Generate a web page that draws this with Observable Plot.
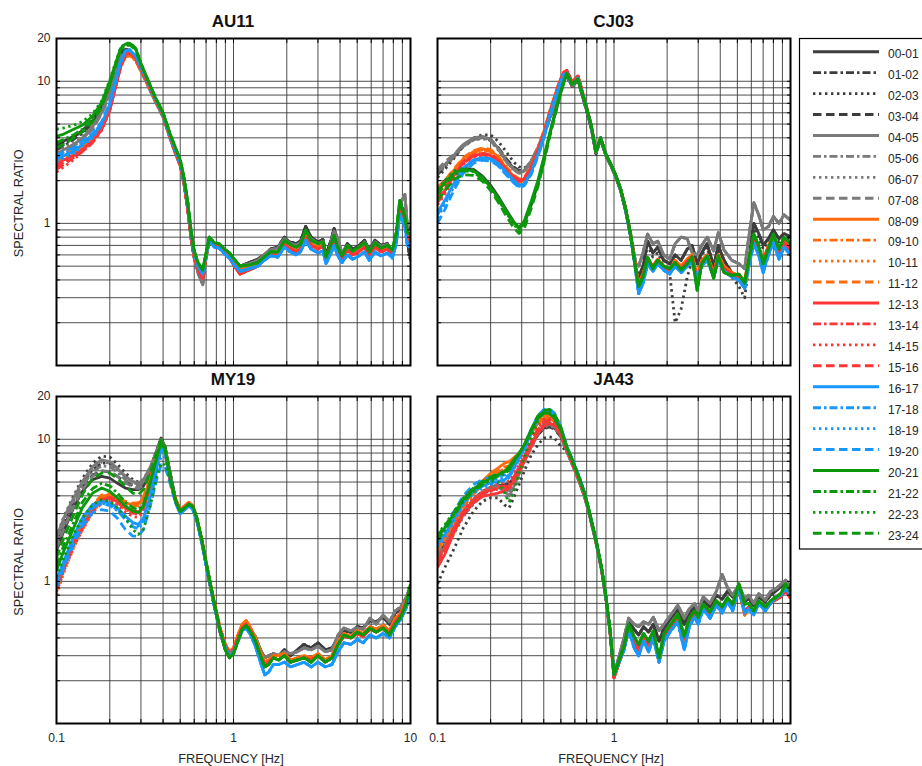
<!DOCTYPE html>
<html>
<head>
<meta charset="utf-8">
<script src="https://cdn.jsdelivr.net/npm/d3@7"></script>
<script src="https://cdn.jsdelivr.net/npm/@observablehq/plot@0.6"></script>
<style>
  html, body { margin: 0; padding: 0; background: #fff; }
  #root { position: relative; width: 922px; height: 766px; overflow: hidden; background: #fff; }
  .panel { position: absolute; }
  .panel svg { max-width: none !important; overflow: visible; }
</style>
</head>
<body>
<div id="root"></div>
<script>
// ---------- labels, styles ----------
const seriesLabels = ["00-01","01-02","02-03","03-04","04-05","05-06","06-07","07-08",
  "08-09","09-10","10-11","11-12","12-13","13-14","14-15","15-16",
  "16-17","17-18","18-19","19-20","20-21","21-22","22-23","23-24"];
const groupColors = ["#3d3d3d", "#7a7a7a", "#ff6a0a", "#ff3535", "#1898ff", "#0b990b"];
const styleDashes = [null, "8,3,2.5,3", "2.4,3.6", "8.5,4.5"]; // solid, dash-dot, dotted, dashed
const panelTitles = ["AU11", "CJ03", "MY19", "JA43"];
const xTickLabels = [0.1, 1, 10];
const yTickLabels = [1, 10, 20];
const xGrid = [0.2,0.3,0.4,0.5,0.6,0.7,0.8,0.9,1,2,3,4,5,6,7,8,9];
const yGrid = [0.2,0.3,0.4,0.5,0.6,0.7,0.8,0.9,1,2,3,4,5,6,7,8,9,10];

// ---------- AU11 ----------
const AU11_loFreq = [0.1, 0.11, 0.125, 0.14, 0.16, 0.18, 0.2, 0.215, 0.23, 0.245, 0.26, 0.28, 0.3];
const AU11_lo = [
  [3.6, 3.8, 4.1, 4.5, 5.3, 6.7, 9.2, 12.5, 15.8, 16.8, 16.5, 14.8, 12.3],
  [3.3, 3.5, 3.9, 4.3, 5.1, 6.5, 9.0, 12.2, 15.5, 16.6, 16.3, 14.6, 12.1],
  [3.4, 3.6, 4.0, 4.5, 5.4, 6.9, 9.5, 12.8, 16.0, 16.9, 16.4, 14.6, 12.0],
  [3.5, 3.7, 4.0, 4.4, 5.2, 6.6, 9.1, 12.3, 15.6, 16.5, 16.2, 14.5, 12.0],
  [3.1, 3.3, 3.6, 4.0, 4.8, 6.1, 8.4, 11.5, 14.8, 16.0, 15.8, 14.3, 11.9],
  [3.0, 3.2, 3.5, 3.9, 4.7, 6.0, 8.2, 11.2, 14.5, 15.8, 15.6, 14.1, 11.8],
  [3.2, 3.4, 3.7, 4.1, 4.9, 6.2, 8.6, 11.8, 15.0, 16.2, 15.9, 14.3, 11.9],
  [3.0, 3.2, 3.5, 3.9, 4.6, 5.9, 8.0, 11.0, 14.3, 15.6, 15.5, 14.0, 11.7],
  [2.8, 3.0, 3.2, 3.5, 4.0, 4.8, 6.5, 9.2, 12.8, 15.0, 15.4, 14.2, 12.0],
  [2.7, 2.9, 3.1, 3.4, 3.9, 4.7, 6.4, 9.0, 12.6, 14.8, 15.2, 14.0, 11.9],
  [2.5, 2.7, 3.0, 3.3, 3.8, 4.6, 6.3, 8.9, 12.4, 14.7, 15.1, 14.0, 11.8],
  [2.9, 3.1, 3.3, 3.6, 4.1, 4.9, 6.6, 9.3, 12.9, 15.1, 15.5, 14.3, 12.1],
  [2.6, 2.8, 3.0, 3.3, 3.8, 4.6, 6.3, 9.1, 12.7, 15.5, 16.0, 14.6, 12.3],
  [2.5, 2.7, 3.0, 3.3, 3.8, 4.6, 6.3, 9.0, 12.6, 15.4, 15.9, 14.5, 12.2],
  [2.3, 2.5, 2.8, 3.2, 3.7, 4.5, 6.2, 9.0, 12.5, 15.3, 15.8, 14.5, 12.2],
  [2.4, 2.6, 2.9, 3.2, 3.7, 4.6, 6.3, 9.1, 12.6, 15.4, 15.9, 14.5, 12.2],
  [2.8, 3.0, 3.2, 3.6, 4.1, 5.0, 6.9, 9.8, 13.5, 16.3, 16.6, 15.0, 12.6],
  [2.9, 3.1, 3.3, 3.7, 4.2, 5.1, 7.0, 9.9, 13.6, 16.3, 16.6, 15.0, 12.6],
  [2.7, 2.9, 3.1, 3.5, 4.0, 4.9, 6.8, 9.7, 13.4, 16.2, 16.5, 14.9, 12.5],
  [3.0, 3.2, 3.4, 3.8, 4.3, 5.2, 7.1, 10.0, 13.7, 16.4, 16.7, 15.1, 12.7],
  [4.1, 4.25, 4.6, 4.9, 5.7, 7.1, 10.0, 13.2, 17.0, 18.3, 18.5, 17.1, 13.4],
  [3.7, 3.9, 4.2, 4.6, 5.4, 6.8, 9.6, 12.9, 16.7, 18.0, 18.2, 16.8, 13.2],
  [4.6, 4.7, 4.9, 5.2, 5.9, 7.3, 10.2, 13.4, 17.2, 18.5, 18.6, 17.2, 13.5],
  [3.4, 3.6, 4.0, 4.4, 5.2, 6.6, 9.4, 12.7, 16.5, 17.8, 18.0, 16.6, 13.1]
];
const AU11_hiFreq = [0.32, 0.36, 0.4, 0.44, 0.47, 0.5, 0.525, 0.55, 0.575, 0.6, 0.63, 0.67, 0.7, 0.73, 0.78, 0.83, 0.89, 0.95, 1.01, 1.09, 1.23, 1.37, 1.49, 1.62, 1.78, 1.94, 2.06, 2.25, 2.39, 2.56, 2.74, 3.0, 3.2, 3.33, 3.56, 3.7, 3.86, 4.1, 4.4, 4.7, 5.0, 5.5, 5.85, 6.3, 6.8, 7.4, 7.9, 8.3, 8.7, 9.3, 9.6, 10];
const AU11_hi = [
  [10.2, 7.4, 5.7, 4.0, 3.2, 2.6, 1.95, 1.3, 0.8, 0.58, 0.46, 0.38, 0.6, 0.78, 0.72, 0.7, 0.64, 0.6, 0.55, 0.5, 0.53, 0.56, 0.6, 0.66, 0.68, 0.8, 0.74, 0.72, 0.75, 0.95, 0.8, 0.74, 0.77, 0.6, 0.76, 0.92, 0.78, 0.6, 0.72, 0.66, 0.68, 0.76, 0.65, 0.76, 0.7, 0.72, 0.6, 0.8, 1.3, 1.25, 0.75, 0.55],
  [10.0, 7.3, 5.6, 3.9, 3.1, 2.55, 1.9, 1.28, 0.8, 0.57, 0.45, 0.37, 0.58, 0.76, 0.7, 0.69, 0.63, 0.59, 0.54, 0.5, 0.52, 0.55, 0.6, 0.65, 0.67, 0.78, 0.73, 0.7, 0.73, 0.88, 0.78, 0.72, 0.75, 0.55, 0.74, 0.88, 0.8, 0.62, 0.7, 0.63, 0.66, 0.74, 0.64, 0.74, 0.69, 0.71, 0.62, 0.78, 1.35, 1.6, 0.95, 0.9],
  [10.3, 7.5, 5.8, 4.0, 3.2, 2.65, 2.0, 1.35, 0.85, 0.6, 0.49, 0.43, 0.6, 0.77, 0.7, 0.69, 0.63, 0.59, 0.53, 0.47, 0.5, 0.52, 0.57, 0.61, 0.6, 0.72, 0.69, 0.64, 0.68, 0.82, 0.72, 0.68, 0.7, 0.55, 0.68, 0.78, 0.66, 0.56, 0.66, 0.6, 0.63, 0.69, 0.6, 0.69, 0.64, 0.66, 0.62, 0.8, 1.3, 1.05, 0.82, 0.78],
  [10.4, 7.6, 5.8, 4.0, 3.2, 2.6, 1.95, 1.3, 0.82, 0.58, 0.47, 0.41, 0.58, 0.76, 0.69, 0.68, 0.62, 0.57, 0.5, 0.44, 0.47, 0.5, 0.56, 0.6, 0.6, 0.71, 0.67, 0.63, 0.66, 0.8, 0.7, 0.66, 0.69, 0.54, 0.67, 0.76, 0.65, 0.55, 0.65, 0.6, 0.62, 0.68, 0.6, 0.68, 0.63, 0.66, 0.6, 0.78, 1.25, 1.0, 0.78, 0.74],
  [10.8, 7.7, 5.9, 4.1, 3.3, 2.7, 2.05, 1.4, 0.88, 0.62, 0.5, 0.44, 0.6, 0.75, 0.68, 0.67, 0.61, 0.57, 0.51, 0.46, 0.48, 0.5, 0.55, 0.59, 0.58, 0.68, 0.64, 0.6, 0.63, 0.76, 0.66, 0.62, 0.64, 0.52, 0.62, 0.7, 0.6, 0.53, 0.6, 0.56, 0.58, 0.63, 0.55, 0.63, 0.59, 0.62, 0.57, 0.72, 1.15, 0.95, 0.7, 0.68],
  [11.0, 7.8, 6.0, 4.2, 3.4, 2.8, 2.1, 1.45, 0.9, 0.64, 0.53, 0.47, 0.62, 0.8, 0.73, 0.72, 0.66, 0.62, 0.56, 0.5, 0.51, 0.53, 0.58, 0.63, 0.63, 0.76, 0.72, 0.68, 0.71, 0.9, 0.76, 0.72, 0.74, 0.58, 0.72, 0.82, 0.69, 0.59, 0.7, 0.64, 0.67, 0.73, 0.63, 0.73, 0.67, 0.7, 0.65, 0.85, 1.45, 1.1, 0.86, 0.84]
];

// ---------- CJ03 ----------
const CJ03_loFreq = [0.1, 0.11, 0.125, 0.14, 0.16, 0.18, 0.2, 0.22, 0.245, 0.27, 0.29, 0.31, 0.34, 0.37, 0.4, 0.43, 0.46, 0.49, 0.52];
const CJ03_lo = [
  [1.75, 2.0, 2.3, 2.45, 2.4, 2.15, 1.85, 1.56, 1.25, 1.03, 0.93, 1.0, 1.35, 1.9, 2.8, 4.1, 5.7, 7.7, 10.0],
  [2.2, 2.5, 3.0, 3.5, 3.9, 4.0, 3.85, 3.4, 2.8, 2.45, 2.3, 2.35, 2.7, 3.3, 4.2, 5.4, 6.8, 8.6, 10.7],
  [2.1, 2.4, 2.9, 3.5, 4.0, 4.2, 4.2, 3.8, 3.2, 2.7, 2.5, 2.45, 2.7, 3.2, 4.1, 5.3, 6.7, 8.5, 10.6],
  [2.25, 2.55, 3.05, 3.55, 3.95, 4.05, 3.9, 3.45, 2.85, 2.5, 2.35, 2.38, 2.72, 3.35, 4.25, 5.45, 6.85, 8.65, 10.8],
  [2.35, 2.6, 3.05, 3.6, 4.0, 4.1, 3.9, 3.4, 2.75, 2.4, 2.28, 2.34, 2.75, 3.4, 4.35, 5.5, 6.9, 8.7, 10.8],
  [2.3, 2.55, 3.0, 3.5, 3.9, 4.0, 3.85, 3.35, 2.75, 2.42, 2.3, 2.36, 2.78, 3.42, 4.38, 5.55, 6.95, 8.75, 10.9],
  [2.2, 2.5, 2.95, 3.45, 3.85, 3.95, 3.8, 3.3, 2.7, 2.38, 2.26, 2.32, 2.72, 3.35, 4.3, 5.45, 6.85, 8.6, 10.7],
  [2.4, 2.7, 3.1, 3.6, 3.95, 4.05, 3.85, 3.35, 2.72, 2.38, 2.25, 2.3, 2.7, 3.35, 4.3, 5.45, 6.85, 8.65, 10.8],
  [1.75, 1.95, 2.4, 2.85, 3.2, 3.35, 3.25, 2.95, 2.45, 2.15, 2.0, 2.05, 2.5, 3.3, 4.4, 6.0, 7.8, 9.9, 11.6],
  [1.7, 1.9, 2.35, 2.8, 3.15, 3.3, 3.2, 2.9, 2.4, 2.1, 1.95, 2.0, 2.45, 3.25, 4.35, 5.9, 7.7, 9.8, 11.5],
  [1.6, 1.85, 2.3, 2.75, 3.1, 3.25, 3.15, 2.88, 2.4, 2.1, 1.93, 2.0, 2.45, 3.25, 4.3, 5.9, 7.7, 9.8, 11.5],
  [1.8, 2.0, 2.45, 2.9, 3.25, 3.4, 3.3, 3.0, 2.5, 2.2, 2.05, 2.1, 2.55, 3.35, 4.45, 6.05, 7.85, 9.9, 11.6],
  [1.45, 1.7, 2.2, 2.7, 3.0, 3.1, 3.0, 2.78, 2.38, 2.12, 2.0, 2.05, 2.48, 3.25, 4.25, 5.8, 7.6, 9.7, 11.6],
  [1.4, 1.65, 2.15, 2.65, 2.95, 3.05, 2.98, 2.75, 2.35, 2.1, 1.98, 2.03, 2.45, 3.2, 4.2, 5.75, 7.55, 9.6, 11.5],
  [1.35, 1.6, 2.1, 2.6, 2.92, 3.02, 2.95, 2.72, 2.33, 2.08, 1.96, 2.0, 2.42, 3.18, 4.18, 5.7, 7.5, 9.6, 11.5],
  [1.5, 1.75, 2.25, 2.72, 3.02, 3.12, 3.02, 2.8, 2.4, 2.14, 2.02, 2.07, 2.5, 3.27, 4.28, 5.82, 7.62, 9.7, 11.6],
  [1.2, 1.45, 1.95, 2.45, 2.8, 2.9, 2.85, 2.65, 2.3, 2.02, 1.85, 1.9, 2.3, 3.05, 4.05, 5.6, 7.4, 9.4, 11.2],
  [1.15, 1.4, 1.9, 2.4, 2.75, 2.85, 2.8, 2.6, 2.25, 1.98, 1.82, 1.88, 2.28, 3.0, 4.0, 5.55, 7.35, 9.35, 11.1],
  [1.1, 1.35, 1.85, 2.35, 2.72, 2.82, 2.78, 2.58, 2.22, 1.95, 1.8, 1.86, 2.25, 2.98, 3.98, 5.5, 7.3, 9.3, 11.1],
  [1.0, 1.25, 1.75, 2.25, 2.65, 2.78, 2.75, 2.55, 2.2, 1.93, 1.78, 1.84, 2.22, 2.95, 3.95, 5.45, 7.25, 9.25, 11.0],
  [1.69, 1.94, 2.28, 2.4, 2.34, 2.1, 1.79, 1.52, 1.23, 1.02, 0.94, 1.04, 1.44, 1.99, 2.9, 4.22, 5.84, 7.85, 10.0],
  [1.6, 1.85, 2.2, 2.35, 2.3, 2.05, 1.75, 1.48, 1.2, 1.0, 0.92, 1.0, 1.38, 1.9, 2.8, 4.1, 5.7, 7.7, 9.9],
  [1.75, 2.0, 2.35, 2.45, 2.38, 2.12, 1.8, 1.5, 1.2, 0.98, 0.9, 0.98, 1.35, 1.88, 2.75, 4.05, 5.65, 7.65, 9.9],
  [1.45, 1.7, 2.05, 2.2, 2.18, 1.98, 1.7, 1.42, 1.13, 0.93, 0.85, 0.92, 1.28, 1.8, 2.65, 3.95, 5.55, 7.55, 9.8]
];
const CJ03_hiFreq = [0.54, 0.58, 0.625, 0.69, 0.74, 0.79, 0.84, 0.9, 0.96, 1.02, 1.09, 1.16, 1.24, 1.33, 1.38, 1.46, 1.55, 1.66, 1.77, 1.91, 2.07, 2.22, 2.4, 2.6, 2.77, 2.96, 3.14, 3.37, 3.67, 3.9, 4.2, 4.65, 5.1, 5.5, 5.8, 6.2, 6.6, 7.0, 7.5, 8.0, 8.6, 9.2, 10];
const CJ03_hi = [
  [11.0, 9.2, 10.2, 6.6, 4.8, 3.1, 3.9, 3.0, 2.55, 2.15, 1.7, 1.25, 0.82, 0.48, 0.42, 0.5, 0.75, 0.62, 0.68, 0.55, 0.52, 0.6, 0.55, 0.66, 0.7, 0.52, 0.62, 0.72, 0.5, 0.7, 0.55, 0.45, 0.4, 0.35, 0.55, 1.0, 0.85, 0.7, 0.78, 0.9, 0.78, 0.85, 0.8],
  [11.0, 9.3, 10.3, 6.7, 4.9, 3.15, 3.95, 3.0, 2.55, 2.15, 1.72, 1.28, 0.86, 0.52, 0.5, 0.62, 0.84, 0.72, 0.75, 0.6, 0.56, 0.72, 0.8, 0.78, 0.62, 0.6, 0.7, 0.8, 0.64, 0.86, 0.65, 0.55, 0.52, 0.48, 0.8, 1.4, 1.15, 0.9, 0.95, 1.12, 1.0, 1.15, 1.05],
  [11.8, 9.8, 10.8, 7.0, 5.0, 3.2, 4.0, 3.05, 2.6, 2.2, 1.75, 1.3, 0.84, 0.48, 0.38, 0.44, 0.56, 0.5, 0.56, 0.5, 0.46, 0.55, 0.5, 0.56, 0.6, 0.42, 0.55, 0.6, 0.45, 0.6, 0.5, 0.45, 0.43, 0.4, 0.56, 0.8, 0.68, 0.55, 0.7, 0.82, 0.62, 0.78, 0.66],
  [11.9, 9.9, 10.9, 7.0, 5.0, 3.2, 4.0, 3.05, 2.6, 2.2, 1.75, 1.3, 0.84, 0.47, 0.37, 0.43, 0.55, 0.5, 0.55, 0.49, 0.47, 0.53, 0.48, 0.54, 0.58, 0.4, 0.53, 0.58, 0.44, 0.58, 0.48, 0.44, 0.42, 0.38, 0.54, 0.78, 0.66, 0.55, 0.68, 0.8, 0.6, 0.74, 0.64],
  [11.4, 9.5, 10.5, 6.9, 4.95, 3.2, 4.0, 3.05, 2.6, 2.2, 1.74, 1.28, 0.82, 0.45, 0.32, 0.38, 0.52, 0.46, 0.52, 0.47, 0.44, 0.5, 0.45, 0.5, 0.54, 0.4, 0.5, 0.55, 0.42, 0.55, 0.46, 0.42, 0.4, 0.35, 0.5, 0.72, 0.6, 0.45, 0.6, 0.74, 0.56, 0.68, 0.6],
  [11.3, 9.5, 10.4, 6.85, 4.97, 3.2, 4.0, 3.06, 2.6, 2.2, 1.74, 1.29, 0.84, 0.47, 0.36, 0.42, 0.58, 0.48, 0.55, 0.5, 0.48, 0.53, 0.47, 0.52, 0.58, 0.34, 0.52, 0.59, 0.41, 0.59, 0.45, 0.43, 0.44, 0.38, 0.55, 0.84, 0.7, 0.52, 0.66, 0.84, 0.66, 0.8, 0.72]
];
// series 02-03 (dark dotted) has its own deep notch near 2.3 Hz
const CJ03_hi_0203 = [11.0, 9.2, 10.2, 6.6, 4.8, 3.1, 3.9, 3.0, 2.55, 2.15, 1.7, 1.25, 0.82, 0.48, 0.4, 0.48, 0.7, 0.58, 0.62, 0.5, 0.44, 0.2, 0.25, 0.42, 0.55, 0.5, 0.6, 0.68, 0.45, 0.66, 0.5, 0.42, 0.36, 0.3, 0.5, 0.92, 0.8, 0.66, 0.72, 0.85, 0.74, 0.8, 0.76];

// ---------- MY19 ----------
const MY19_loFreq = [0.1, 0.11, 0.125, 0.14, 0.16, 0.18, 0.2, 0.22, 0.245, 0.27, 0.29, 0.31, 0.34, 0.37, 0.39, 0.41, 0.44];
const MY19_lo = [
  [1.64, 2.26, 3.3, 4.3, 5.2, 5.48, 5.33, 4.92, 4.54, 4.43, 4.43, 4.67, 5.95, 8.4, 10.2, 8.9, 5.6],
  [1.9, 2.6, 3.7, 4.9, 6.1, 6.8, 6.8, 6.2, 5.5, 5.0, 4.85, 5.1, 6.3, 8.5, 10.1, 8.8, 5.6],
  [2.05, 2.85, 4.0, 5.3, 6.8, 7.6, 7.5, 6.7, 5.8, 5.2, 5.0, 5.2, 6.4, 8.5, 10.0, 8.8, 5.7],
  [1.75, 2.4, 3.5, 4.6, 5.6, 6.0, 5.9, 5.5, 5.0, 4.7, 4.6, 4.85, 6.1, 8.4, 10.0, 8.8, 5.6],
  [2.03, 2.8, 3.87, 5.05, 6.45, 7.15, 6.97, 6.27, 5.48, 5.05, 4.92, 5.2, 6.45, 8.4, 9.9, 8.9, 5.7],
  [1.85, 2.55, 3.6, 4.7, 5.9, 6.5, 6.4, 5.9, 5.2, 4.8, 4.7, 4.95, 6.2, 8.3, 9.9, 8.8, 5.6],
  [1.95, 2.7, 3.75, 4.9, 6.2, 6.9, 6.8, 6.1, 5.35, 4.95, 4.85, 5.1, 6.35, 8.4, 10.0, 8.9, 5.6],
  [1.7, 2.35, 3.35, 4.4, 5.5, 6.0, 5.95, 5.5, 4.95, 4.6, 4.5, 4.75, 6.0, 8.2, 9.8, 8.7, 5.5],
  [0.96, 1.32, 1.93, 2.52, 3.38, 3.97, 4.08, 3.87, 3.57, 3.47, 3.5, 3.87, 5.33, 7.77, 9.6, 8.2, 5.0],
  [0.92, 1.27, 1.86, 2.45, 3.3, 3.88, 4.0, 3.8, 3.5, 3.4, 3.42, 3.78, 5.2, 7.6, 9.5, 8.1, 5.0],
  [0.8, 1.15, 1.72, 2.3, 3.1, 3.6, 3.7, 3.5, 3.2, 3.05, 3.05, 3.35, 4.7, 7.2, 9.2, 8.0, 5.1],
  [1.0, 1.36, 1.98, 2.6, 3.45, 4.05, 4.15, 3.95, 3.65, 3.55, 3.58, 3.95, 5.4, 7.85, 9.7, 8.3, 5.1],
  [0.9, 1.24, 1.82, 2.4, 3.2, 3.75, 3.85, 3.65, 3.3, 3.1, 3.05, 3.35, 4.7, 7.2, 9.3, 8.1, 5.0],
  [0.88, 1.22, 1.8, 2.38, 3.15, 3.7, 3.8, 3.6, 3.25, 3.02, 2.98, 3.28, 4.6, 7.1, 9.2, 8.0, 5.0],
  [0.84, 1.18, 1.74, 2.3, 3.05, 3.55, 3.62, 3.42, 3.08, 2.86, 2.82, 3.1, 4.4, 6.9, 9.0, 7.9, 5.0],
  [0.93, 1.27, 1.86, 2.45, 3.25, 3.8, 3.9, 3.7, 3.35, 3.15, 3.1, 3.4, 4.75, 7.25, 9.35, 8.1, 5.1],
  [1.01, 1.39, 2.08, 2.8, 3.47, 3.66, 3.57, 3.3, 2.88, 2.59, 2.52, 2.8, 4.08, 6.6, 8.9, 8.2, 5.3],
  [0.95, 1.32, 1.98, 2.65, 3.3, 3.5, 3.42, 3.15, 2.72, 2.42, 2.35, 2.6, 3.8, 6.2, 8.5, 8.0, 5.2],
  [0.97, 1.34, 2.0, 2.7, 3.35, 3.55, 3.47, 3.2, 2.78, 2.5, 2.45, 2.7, 3.9, 6.0, 7.6, 7.5, 5.1],
  [0.91, 1.25, 1.82, 2.45, 3.04, 3.2, 3.12, 2.8, 2.32, 2.08, 2.08, 2.32, 3.47, 5.33, 6.6, 6.45, 4.8],
  [1.19, 1.64, 2.38, 3.3, 4.18, 4.54, 4.3, 3.87, 3.38, 3.12, 3.04, 3.38, 5.05, 7.56, 9.6, 8.46, 5.3],
  [1.3, 1.8, 2.6, 3.6, 4.5, 4.9, 4.7, 4.2, 3.6, 3.3, 3.2, 3.5, 5.1, 7.7, 9.7, 8.5, 5.4],
  [1.07, 1.47, 2.14, 2.8, 3.47, 3.76, 3.66, 3.3, 2.8, 2.32, 2.14, 2.32, 3.47, 5.63, 6.8, 6.6, 5.0],
  [1.47, 2.03, 2.95, 4.08, 5.33, 5.78, 5.78, 5.33, 4.67, 4.18, 4.08, 4.43, 5.95, 8.2, 9.9, 8.9, 5.6]
];
const MY19_hiFreq = [0.47, 0.5, 0.53, 0.56, 0.59, 0.62, 0.66, 0.71, 0.77, 0.84, 0.9, 0.95, 1.0, 1.06, 1.12, 1.18, 1.25, 1.33, 1.42, 1.5, 1.58, 1.68, 1.8, 1.94, 2.1, 2.3, 2.5, 2.75, 3.0, 3.3, 3.6, 3.9, 4.2, 4.6, 5.0, 5.4, 5.9, 6.4, 7.0, 7.6, 8.2, 8.8, 9.4, 10];
const MY19_hi = [
  [3.8, 3.15, 3.35, 3.5, 3.3, 2.75, 1.95, 1.2, 0.72, 0.44, 0.33, 0.3, 0.32, 0.4, 0.47, 0.5, 0.45, 0.4, 0.33, 0.29, 0.3, 0.31, 0.3, 0.33, 0.3, 0.33, 0.36, 0.34, 0.37, 0.33, 0.34, 0.4, 0.45, 0.44, 0.48, 0.47, 0.53, 0.52, 0.56, 0.5, 0.6, 0.64, 0.72, 0.9],
  [3.75, 3.1, 3.3, 3.45, 3.25, 2.7, 1.95, 1.2, 0.72, 0.44, 0.33, 0.3, 0.32, 0.4, 0.47, 0.5, 0.46, 0.41, 0.33, 0.29, 0.3, 0.31, 0.3, 0.32, 0.31, 0.32, 0.34, 0.33, 0.35, 0.32, 0.33, 0.42, 0.47, 0.45, 0.47, 0.46, 0.55, 0.5, 0.58, 0.52, 0.62, 0.66, 0.76, 0.92],
  [3.8, 3.2, 3.4, 3.6, 3.4, 2.8, 2.0, 1.25, 0.76, 0.47, 0.36, 0.32, 0.34, 0.42, 0.5, 0.53, 0.47, 0.4, 0.32, 0.27, 0.28, 0.3, 0.3, 0.31, 0.28, 0.29, 0.3, 0.29, 0.31, 0.28, 0.3, 0.38, 0.43, 0.41, 0.45, 0.43, 0.48, 0.46, 0.49, 0.45, 0.55, 0.6, 0.72, 0.92],
  [3.7, 3.1, 3.3, 3.5, 3.3, 2.75, 1.95, 1.22, 0.74, 0.46, 0.35, 0.31, 0.33, 0.4, 0.47, 0.5, 0.45, 0.38, 0.3, 0.26, 0.27, 0.29, 0.28, 0.3, 0.27, 0.28, 0.29, 0.28, 0.3, 0.27, 0.29, 0.36, 0.41, 0.4, 0.43, 0.41, 0.46, 0.44, 0.47, 0.43, 0.52, 0.58, 0.7, 0.9],
  [3.6, 3.0, 3.2, 3.4, 3.2, 2.7, 1.9, 1.2, 0.72, 0.45, 0.34, 0.3, 0.32, 0.38, 0.45, 0.47, 0.42, 0.35, 0.27, 0.22, 0.23, 0.26, 0.26, 0.27, 0.25, 0.26, 0.27, 0.25, 0.27, 0.25, 0.26, 0.32, 0.37, 0.36, 0.39, 0.37, 0.42, 0.4, 0.43, 0.4, 0.48, 0.54, 0.64, 0.8],
  [3.7, 3.1, 3.3, 3.5, 3.35, 2.8, 2.0, 1.25, 0.75, 0.45, 0.33, 0.29, 0.31, 0.38, 0.46, 0.49, 0.44, 0.38, 0.3, 0.25, 0.26, 0.29, 0.28, 0.3, 0.27, 0.28, 0.29, 0.27, 0.3, 0.27, 0.29, 0.36, 0.42, 0.4, 0.44, 0.42, 0.47, 0.44, 0.47, 0.42, 0.5, 0.56, 0.68, 0.95]
];

// ---------- JA43 ----------
const JA43_loFreq = [0.1, 0.11, 0.125, 0.14, 0.16, 0.18, 0.2, 0.22, 0.24, 0.255, 0.27, 0.29, 0.31, 0.34, 0.37, 0.4, 0.43, 0.46, 0.5];
const JA43_lo = [
  [1.5, 1.8, 2.4, 3.0, 3.7, 4.2, 4.5, 4.7, 4.8, 4.9, 5.3, 6.1, 7.2, 9.0, 10.8, 12.0, 12.3, 12.0, 10.6],
  [1.6, 1.9, 2.5, 3.1, 3.8, 4.3, 4.6, 4.8, 4.6, 4.5, 5.0, 6.0, 7.2, 9.2, 11.2, 12.6, 13.0, 12.5, 10.9],
  [0.96, 1.25, 1.73, 2.38, 3.12, 3.66, 3.87, 3.87, 3.45, 3.3, 3.87, 4.8, 5.95, 7.77, 9.1, 10.2, 10.4, 10.2, 8.9],
  [1.4, 1.7, 2.3, 2.9, 3.6, 4.1, 4.4, 4.6, 4.5, 4.4, 4.9, 5.9, 7.0, 8.9, 10.7, 11.9, 12.2, 11.8, 10.4],
  [1.45, 1.75, 2.35, 3.0, 3.7, 4.2, 4.5, 4.6, 4.3, 4.0, 4.6, 5.7, 7.0, 9.0, 11.0, 12.4, 12.7, 12.2, 10.7],
  [1.55, 1.85, 2.45, 3.1, 3.8, 4.3, 4.6, 4.75, 4.5, 4.3, 4.9, 6.0, 7.3, 9.3, 11.3, 12.8, 13.1, 12.6, 11.0],
  [1.35, 1.65, 2.2, 2.85, 3.5, 4.0, 4.3, 4.45, 4.1, 3.7, 4.2, 5.4, 6.7, 8.7, 10.8, 12.2, 12.5, 12.0, 10.5],
  [1.5, 1.8, 2.4, 3.05, 3.75, 4.25, 4.55, 4.7, 4.5, 4.35, 5.0, 6.1, 7.4, 9.4, 11.4, 12.9, 13.2, 12.7, 11.1],
  [1.73, 2.03, 2.73, 3.47, 4.3, 5.05, 5.78, 6.27, 6.8, 6.97, 7.4, 7.98, 8.9, 11.0, 12.9, 14.0, 14.0, 13.3, 11.0],
  [1.65, 1.95, 2.6, 3.3, 4.1, 4.8, 5.4, 5.8, 6.0, 6.0, 6.7, 7.7, 8.8, 11.0, 13.0, 14.3, 14.4, 13.6, 11.3],
  [1.7, 2.0, 2.65, 3.35, 4.15, 4.85, 5.45, 5.9, 6.2, 6.3, 6.9, 7.8, 8.9, 11.1, 13.2, 14.5, 14.6, 13.8, 11.4],
  [1.8, 2.1, 2.8, 3.55, 4.4, 5.1, 5.7, 6.1, 6.4, 6.5, 7.1, 8.0, 9.0, 11.2, 13.3, 14.6, 14.7, 13.9, 11.5],
  [1.25, 1.55, 2.26, 2.95, 3.57, 3.97, 4.08, 4.18, 4.35, 4.54, 5.05, 5.95, 6.97, 8.9, 11.0, 12.4, 12.9, 12.6, 10.7],
  [1.4, 1.7, 2.4, 3.1, 3.75, 4.2, 4.4, 4.6, 4.7, 4.8, 5.4, 6.4, 7.5, 9.6, 11.8, 13.3, 13.6, 13.0, 11.0],
  [1.45, 1.75, 2.45, 3.15, 3.8, 4.3, 4.6, 4.85, 5.0, 5.1, 5.7, 6.7, 7.9, 10.1, 12.3, 13.8, 14.0, 13.3, 11.2],
  [1.35, 1.65, 2.35, 3.05, 3.7, 4.15, 4.35, 4.5, 4.6, 4.7, 5.3, 6.3, 7.4, 9.5, 11.7, 13.2, 13.5, 12.9, 10.9],
  [1.82, 2.14, 2.8, 3.57, 4.3, 4.67, 4.92, 5.05, 5.2, 5.48, 6.27, 7.4, 8.6, 11.3, 14.0, 15.6, 15.8, 14.8, 11.9],
  [1.9, 2.25, 2.95, 3.75, 4.5, 4.9, 5.15, 5.3, 5.4, 5.6, 6.4, 7.5, 8.8, 11.6, 14.4, 16.0, 16.2, 15.1, 12.1],
  [1.75, 2.05, 2.7, 3.45, 4.15, 4.55, 4.8, 4.95, 5.1, 5.35, 6.1, 7.2, 8.4, 11.0, 13.8, 15.4, 15.7, 14.7, 11.8],
  [2.0, 2.4, 3.15, 4.0, 4.8, 5.2, 5.4, 5.55, 5.6, 5.8, 6.6, 7.7, 9.0, 11.8, 14.6, 16.2, 16.4, 15.3, 12.3],
  [2.03, 2.38, 3.04, 3.76, 4.43, 4.92, 5.33, 5.63, 5.95, 6.45, 7.15, 7.98, 9.1, 11.6, 14.0, 15.2, 15.2, 14.0, 11.6],
  [1.95, 2.3, 2.95, 3.65, 4.3, 4.8, 5.2, 5.5, 5.7, 6.1, 6.9, 7.9, 9.1, 11.7, 14.3, 15.6, 15.7, 14.5, 11.9],
  [2.15, 2.5, 3.15, 3.85, 4.5, 4.9, 5.1, 5.0, 4.2, 3.6, 4.3, 5.8, 7.4, 10.3, 13.4, 15.5, 15.9, 14.8, 12.0],
  [2.1, 2.45, 3.1, 3.85, 4.55, 5.05, 5.45, 5.75, 5.9, 6.2, 6.9, 7.9, 9.1, 11.8, 14.6, 16.0, 16.2, 15.0, 12.2]
];
const JA43_hiFreq = [0.54, 0.57, 0.6, 0.64, 0.68, 0.72, 0.76, 0.8, 0.85, 0.9, 0.95, 1.0, 1.07, 1.14, 1.21, 1.3, 1.38, 1.47, 1.57, 1.67, 1.8, 1.92, 2.1, 2.3, 2.5, 2.67, 2.86, 3.0, 3.2, 3.5, 3.8, 4.1, 4.4, 4.7, 5.1, 5.5, 5.8, 6.2, 6.6, 7.2, 7.7, 8.2, 8.8, 9.4, 10];
const JA43_hi = [
  [8.3, 7.1, 6.1, 5.0, 4.0, 3.1, 2.35, 1.78, 1.22, 0.77, 0.45, 0.22, 0.29, 0.38, 0.52, 0.46, 0.42, 0.48, 0.44, 0.5, 0.38, 0.47, 0.55, 0.64, 0.5, 0.6, 0.66, 0.6, 0.74, 0.66, 0.8, 0.75, 0.85, 0.78, 0.92, 0.72, 0.76, 0.68, 0.78, 0.72, 0.8, 0.85, 0.92, 1.0, 0.88],
  [8.2, 7.0, 6.0, 4.9, 3.95, 3.05, 2.3, 1.75, 1.2, 0.76, 0.44, 0.22, 0.3, 0.4, 0.55, 0.5, 0.48, 0.52, 0.5, 0.56, 0.45, 0.5, 0.58, 0.68, 0.55, 0.64, 0.7, 0.62, 0.78, 0.7, 0.85, 1.12, 0.9, 0.8, 0.95, 0.75, 0.8, 0.7, 0.82, 0.74, 0.85, 0.88, 0.95, 1.02, 0.9],
  [8.6, 7.3, 6.2, 5.1, 4.1, 3.15, 2.38, 1.8, 1.23, 0.77, 0.44, 0.21, 0.27, 0.33, 0.47, 0.36, 0.32, 0.4, 0.35, 0.42, 0.27, 0.4, 0.47, 0.56, 0.38, 0.52, 0.58, 0.52, 0.66, 0.56, 0.7, 0.62, 0.72, 0.64, 0.88, 0.58, 0.66, 0.6, 0.7, 0.63, 0.7, 0.74, 0.78, 0.88, 0.76],
  [8.5, 7.2, 6.2, 5.1, 4.1, 3.15, 2.38, 1.8, 1.23, 0.77, 0.44, 0.21, 0.27, 0.34, 0.48, 0.38, 0.33, 0.41, 0.36, 0.43, 0.28, 0.41, 0.48, 0.56, 0.4, 0.53, 0.59, 0.53, 0.66, 0.58, 0.7, 0.63, 0.72, 0.65, 0.86, 0.62, 0.66, 0.6, 0.7, 0.64, 0.7, 0.74, 0.78, 0.86, 0.76],
  [8.9, 7.6, 6.5, 5.3, 4.2, 3.2, 2.4, 1.82, 1.25, 0.78, 0.45, 0.22, 0.27, 0.33, 0.46, 0.34, 0.3, 0.38, 0.32, 0.4, 0.27, 0.38, 0.45, 0.52, 0.33, 0.48, 0.56, 0.5, 0.64, 0.55, 0.68, 0.6, 0.72, 0.62, 0.9, 0.6, 0.64, 0.58, 0.7, 0.62, 0.7, 0.76, 0.8, 0.9, 0.8],
  [8.8, 7.5, 6.4, 5.2, 4.2, 3.2, 2.4, 1.82, 1.25, 0.78, 0.45, 0.22, 0.28, 0.35, 0.5, 0.41, 0.36, 0.43, 0.38, 0.45, 0.29, 0.43, 0.5, 0.59, 0.41, 0.55, 0.62, 0.56, 0.69, 0.61, 0.73, 0.66, 0.77, 0.69, 0.96, 0.69, 0.7, 0.62, 0.73, 0.66, 0.73, 0.77, 0.82, 0.96, 0.84]
];

// ---------- layout ----------
const FONT = "'Liberation Sans', Arial, Helvetica, sans-serif";
const ML = 56, MR = 8, MT = 8, MB = 30;
const panels = [
  {title: panelTitles[0], left: 56,  top: 38,  w: 354, h: 327, loF: AU11_loFreq, lo: AU11_lo, hiF: AU11_hiFreq, hi: AU11_hi, special: {}, showX: false, showY: true},
  {title: panelTitles[1], left: 437, top: 38,  w: 353, h: 327, loF: CJ03_loFreq, lo: CJ03_lo, hiF: CJ03_hiFreq, hi: CJ03_hi, special: {2: CJ03_hi_0203}, showX: false, showY: false},
  {title: panelTitles[2], left: 56,  top: 396, w: 354, h: 327, loF: MY19_loFreq, lo: MY19_lo, hiF: MY19_hiFreq, hi: MY19_hi, special: {}, showX: true, showY: true},
  {title: panelTitles[3], left: 437, top: 396, w: 353, h: 327, loF: JA43_loFreq, lo: JA43_lo, hiF: JA43_hiFreq, hi: JA43_hi, special: {}, showX: true, showY: false}
];

const root = document.getElementById("root");
const gridStyle = {stroke: "#3a3a3a", strokeOpacity: 1, strokeWidth: 0.9};

panels.forEach(p => {
  const lineMarks = seriesLabels.map((label, i) => {
    const g = Math.floor(i / 4);
    const hiVals = p.special[i] || p.hi[g];
    const pts = p.loF.map((f, j) => ({f, v: p.lo[i][j]}))
      .concat(p.hiF.map((f, j) => ({f, v: hiVals[j]})));
    const opts = {x: "f", y: "v", stroke: groupColors[g], strokeWidth: 2.8,
      strokeLinejoin: "round", strokeLinecap: "butt", clip: true};
    if (styleDashes[i % 4]) opts.strokeDasharray = styleDashes[i % 4];
    return Plot.line(pts, opts);
  });
  const blank = () => "";
  const marks = [
    Plot.gridX(xGrid, gridStyle),
    Plot.gridY(yGrid, gridStyle),
    ...lineMarks,
    Plot.frame({stroke: "#000", strokeWidth: 2}),
    Plot.axisX(xGrid, {anchor: "top", tickSize: 4, dy: 4, tickFormat: blank, label: null, stroke: "#000"}),
    Plot.axisX(xGrid, {anchor: "bottom", tickSize: 4, dy: -4, tickFormat: blank, label: null, stroke: "#000"}),
    Plot.axisY(yGrid.concat([20]), {anchor: "left", tickSize: 4, dx: 4, tickFormat: blank, label: null, stroke: "#000"}),
    Plot.axisY(yGrid.concat([20]), {anchor: "right", tickSize: 4, dx: -4, tickFormat: blank, label: null, stroke: "#000"})
  ];
  if (p.showY) marks.push(Plot.axisY(yTickLabels, {anchor: "left", tickSize: 0, tickPadding: 6, label: null, tickFormat: d => String(d), fontSize: 12}));
  if (p.showX) marks.push(Plot.axisX(xTickLabels, {anchor: "bottom", tickSize: 0, tickPadding: 10, label: null, tickFormat: d => String(d), fontSize: 12}));

  const chart = Plot.plot({
    width: ML + p.w + MR,
    height: MT + p.h + MB,
    marginLeft: ML, marginRight: MR, marginTop: MT, marginBottom: MB,
    x: {type: "log", domain: [0.1, 10]},
    y: {type: "log", domain: [0.1, 20]},
    style: {background: "transparent", fontFamily: FONT, fontSize: "12px", color: "#262626", overflow: "visible"},
    marks
  });
  const div = document.createElement("div");
  div.className = "panel";
  div.style.left = (p.left - ML) + "px";
  div.style.top = (p.top - MT) + "px";
  div.style.width = (ML + p.w + MR) + "px";
  div.appendChild(chart);
  root.appendChild(div);
});

// ---------- titles, axis labels, legend ----------
const overlay = d3.select(root).append("svg")
  .attr("width", 922).attr("height", 766)
  .style("position", "absolute").style("left", "0px").style("top", "0px")
  .style("pointer-events", "none")
  .style("font-family", FONT);

const titlePos = [[233, 26.7], [613.5, 26.7], [233, 385], [613.5, 385]];
panels.forEach((p, k) => {
  overlay.append("text").attr("x", titlePos[k][0]).attr("y", titlePos[k][1])
    .attr("text-anchor", "middle").attr("font-size", 17).attr("font-weight", "bold")
    .attr("fill", "#111").text(p.title);
});
[[203.3], [561.7]].forEach(([cy]) => {
  overlay.append("text").attr("transform", `translate(22.5,${cy}) rotate(-90)`)
    .attr("text-anchor", "middle").attr("font-size", 12.7).attr("fill", "#262626")
    .text("SPECTRAL RATIO");
});
[231, 611].forEach(cx => {
  overlay.append("text").attr("x", cx).attr("y", 763)
    .attr("text-anchor", "middle").attr("font-size", 12.7).attr("fill", "#262626")
    .text("FREQUENCY [Hz]");
});

// legend
const leg = overlay.append("g");
leg.append("rect").attr("x", 799.5).attr("y", 38.5).attr("width", 140).attr("height", 510.5)
  .attr("fill", "#fff").attr("stroke", "#000").attr("stroke-width", 1.2);
seriesLabels.forEach((label, i) => {
  const y = 51.7 + i * 20.94;
  const ln = leg.append("line").attr("x1", 813).attr("x2", 879).attr("y1", y).attr("y2", y)
    .attr("stroke", groupColors[Math.floor(i / 4)]).attr("stroke-width", 2.9);
  if (styleDashes[i % 4]) ln.attr("stroke-dasharray", styleDashes[i % 4]);
  leg.append("text").attr("x", 888).attr("y", y + 6.3).attr("font-size", 12)
    .attr("fill", "#262626").text(label);
});
</script>
</body>
</html>
